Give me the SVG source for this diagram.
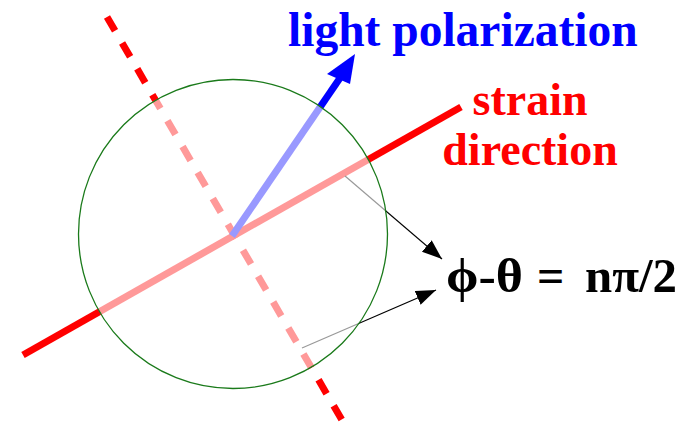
<svg xmlns="http://www.w3.org/2000/svg" width="688" height="433" viewBox="0 0 688 433">
<defs>
<style>
.strain{stroke:#ff0000;stroke-width:7;fill:none}
.perp{stroke:#ff0000;stroke-width:7;stroke-dasharray:16 14;fill:none}
.pol{stroke:#0000ff;stroke-width:7;fill:none}
.thin{stroke:#000;stroke-width:1.2;fill:none;marker-end:url(#ah)}
.lbl{font-family:"Liberation Serif","Times New Roman",serif;font-weight:bold}
</style>
<marker id="ah" markerUnits="userSpaceOnUse" markerWidth="22" markerHeight="16" refX="20" refY="7.5" orient="auto">
<path d="M0,0 L20,7.5 L0,15 Z" fill="#000"/>
</marker>
</defs>
<rect width="688" height="433" fill="#fff"/>
<g id="connectors">
<line class="strain" x1="23" y1="355" x2="461" y2="107"/>
<line class="perp" x1="107" y1="17" x2="346" y2="427"/>
<line class="pol" x1="232" y1="236" x2="340" y2="78"/>
<polygon points="355,54 327,74 350,84" fill="#0000ff"/>
<line class="thin" x1="345" y1="176" x2="442" y2="259"/>
<line class="thin" x1="302" y1="348" x2="436" y2="290"/>
</g>
<g id="circle">
<circle cx="233" cy="234" r="154.5" fill="#fff" fill-opacity="0.6" stroke="#1a7a1a" stroke-width="1.3"/>
</g>
<g id="label-light">
<text class="lbl" x="288" y="46" font-size="47.5" fill="#0000ff">light polarization</text>
</g>
<g id="label-strain">
<text class="lbl" font-size="46" fill="#ff0000" text-anchor="middle"><tspan x="530" y="115">strain</tspan><tspan x="530" y="165">direction</tspan></text>
</g>
<g id="label-formula">
<text class="lbl" y="292" font-size="48" fill="#000"><tspan x="446" textLength="77" lengthAdjust="spacingAndGlyphs">ϕ-θ</tspan><tspan x="537">=</tspan><tspan x="585" textLength="92" lengthAdjust="spacingAndGlyphs">nπ/2</tspan></text>
</g>
</svg>
